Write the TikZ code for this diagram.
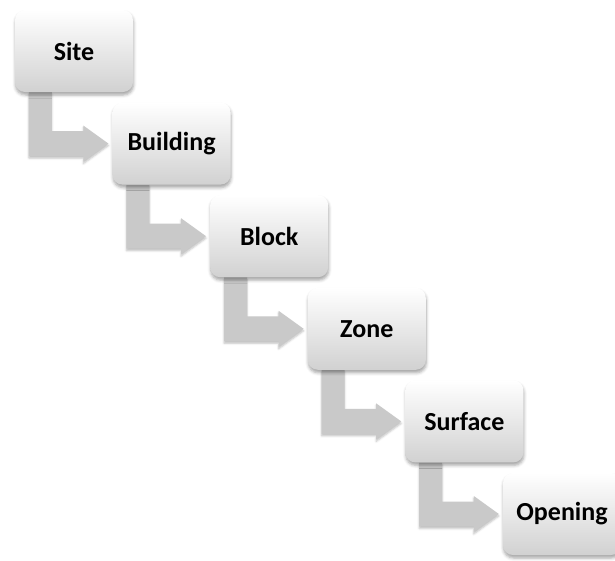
\documentclass[tikz,border=0pt]{standalone}
\usepackage{fontspec}
\setmainfont{Carlito}
\usetikzlibrary{calc,shadows.blur,backgrounds}

\begin{document}
\begin{tikzpicture}[x=1pt,y=1pt,
  levelbox/.style={rounded corners=10pt, minimum width=118pt, minimum height=82pt,
    inner sep=0pt, top color=white, bottom color=black!18, draw=none,
    font=\bfseries\fontsize{26}{30}\selectfont,
    blur shadow={shadow xshift=0.5pt, shadow yshift=-3pt, shadow blur radius=3pt,
      shadow opacity=35}},
  stepflow/.style={fill=black!21, draw=none,
    blur shadow={shadow xshift=0pt, shadow yshift=-2pt, shadow blur radius=2pt,
      shadow opacity=25}}]

\useasboundingbox (0,0) rectangle (615,-560);

% level positions
\coordinate (p1) at (74,-51);
\def\dx{97.6}
\def\dy{-92.6}

\path
  node[levelbox] (site)     at (p1) {Site}
  node[levelbox] (building) at ($(p1)+(1*\dx,1*\dy)$) {Building}
  node[levelbox] (block)    at ($(p1)+(2*\dx,2*\dy)$) {Block}
  node[levelbox] (zone)     at ($(p1)+(3*\dx,3*\dy)$) {Zone}
  node[levelbox] (surface)  at ($(p1)+(4*\dx,4*\dy)$) {Surface}
  node[levelbox] (opening)  at ($(p1)+(5*\dx,5*\dy)$) {Opening};

% elbow arrows between consecutive levels, behind the boxes
\begin{scope}[on background layer]
\foreach \a/\b in {site/building, building/block, block/zone, zone/surface, surface/opening}{
  \path[stepflow] let \p1=(\a.south west), \p2=(\b.west) in
    (\x1+14,\y1) -- (\x1+37,\y1) -- (\x1+37,\y2+12.5) -- (\x2-29,\y2+12.5)
    -- (\x2-29,\y2+18) -- (\x2-4,\y2) -- (\x2-29,\y2-18) -- (\x2-29,\y2-12.5)
    -- (\x1+14,\y2-12.5) -- cycle;
}
\end{scope}
\end{tikzpicture}
\end{document}
